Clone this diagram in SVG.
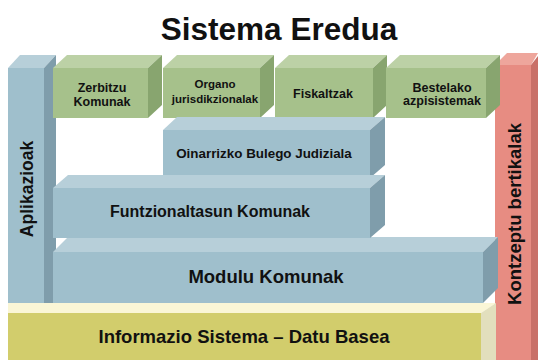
<svg xmlns="http://www.w3.org/2000/svg" width="538" height="360" viewBox="0 0 538 360">
<style>
text{font-family:"Liberation Sans",Arial,sans-serif;font-weight:bold;fill:#111;text-anchor:middle}
.bf{fill:#9fbfcc}.bt{fill:#b7cfd9}.bs{fill:#7f9dab}
.gf{fill:#a6c18b}.gt{fill:#bcd1a6}.gs{fill:#88a56f}
.rf{fill:#e78c82}.rt{fill:#eea69c}.rs{fill:#c97068}
.yf{fill:#d2cd6c}.yt{fill:#faf6d6}.ys{fill:#e2dfbd}
.s{font-size:12.5px}
</style>
<rect width="538" height="360" fill="#fff"/>
<text x="279" y="40" style="font-size:31.5px">Sistema Eredua</text>

<g id="aplikazioak">
<polygon class="bt" points="8,68 20,55 56,55 44,68"/>
<polygon class="bs" points="44,68 56,55 56,303 44,303"/>
<rect class="bf" x="8" y="68" width="36" height="235"/>
<text transform="translate(33,189) rotate(-90)" style="font-size:17.5px">Aplikazioak</text>
</g>

<g id="kontzeptu">
<polygon class="rt" points="495,65 507,53 538,53 531,65"/>
<polygon class="rs" points="531,65 538,56 538,360 531,360"/>
<rect class="rf" x="495" y="65" width="36" height="295"/>
<text transform="translate(521,214) rotate(-90)" style="font-size:18.5px">Kontzeptu bertikalak</text>
</g>

<g id="zerbitzu">
<polygon class="gt" points="53,68 67,55 162,55 148,68"/>
<polygon class="gs" points="148,68 162,55 162,105 148,118"/>
<rect class="gf" x="53" y="68" width="95" height="50"/>
<text class="s" x="102" y="92">Zerbitzu</text>
<text class="s" x="102" y="106">Komunak</text>
</g>

<g id="organo">
<polygon class="gt" points="163,68 177,55 274,55 260,68"/>
<polygon class="gs" points="260,68 274,55 274,105 260,118"/>
<rect class="gf" x="163" y="68" width="97" height="50"/>
<text x="215" y="88" style="font-size:11.5px">Organo</text>
<text x="215" y="103" style="font-size:11.5px">jurisdikzionalak</text>
</g>

<g id="fiskaltzak">
<polygon class="gt" points="275,68 289,55 387,55 373,68"/>
<polygon class="gs" points="373,68 387,55 387,105 373,118"/>
<rect class="gf" x="275" y="68" width="98" height="50"/>
<text class="s" x="323" y="98">Fiskaltzak</text>
</g>

<g id="bestelako">
<polygon class="gt" points="386,68 400,55 500,55 486,68"/>
<polygon class="gs" points="486,68 500,55 500,105 486,118"/>
<rect class="gf" x="386" y="68" width="100" height="50"/>
<text class="s" x="442" y="92">Bestelako</text>
<text class="s" x="442" y="105">azpisistemak</text>
</g>

<g id="oinarrizko">
<polygon class="bt" points="163,130 177,117 385,117 370,130"/>
<polygon class="bs" points="370,130 385,117 385,165 370,178"/>
<rect class="bf" x="163" y="130" width="207" height="48"/>
<text x="264" y="158" style="font-size:13.4px">Oinarrizko Bulego Judiziala</text>
</g>

<g id="informazio">
<polygon class="yt" points="8,313 8,303 496,303 481,313"/>
<polygon class="ys" points="481,313 496,303 496,360 481,360"/>
<rect class="yf" x="8" y="313" width="473" height="47"/>
<text x="244" y="343" style="font-size:18.5px">Informazio Sistema – Datu Basea</text>
</g>

<g id="modulu">
<polygon class="bt" points="53,252 68,237 498,237 483,252"/>
<polygon class="bs" points="483,252 498,237 498,288 483,303"/>
<rect class="bf" x="53" y="252" width="430" height="51"/>
<text x="266" y="283" style="font-size:18.5px">Modulu Komunak</text>
</g>

<g id="funtzionaltasun">
<polygon class="bt" points="53,188 68,175 385,175 370,188"/>
<polygon class="bs" points="370,188 385,175 385,225 370,238"/>
<rect class="bf" x="53" y="188" width="317" height="50"/>
<text x="210" y="217" style="font-size:16px">Funtzionaltasun Komunak</text>
</g>

<g id="connectors"/>
</svg>
